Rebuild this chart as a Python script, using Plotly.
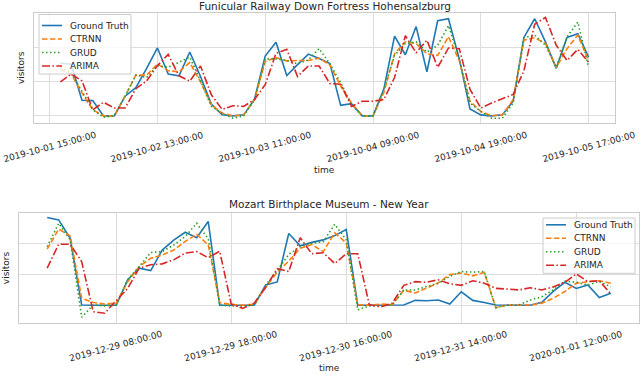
import plotly.graph_objects as go

# one point per opening hour (08:00-19:00), 50 hours per panel
IDX = list(range(50))

# --- top panel: funicular railway ---
TOP_TITLE = "Funicular Railway Down Fortress Hohensalzburg"
TOP_TICK_POS = [-1, 9, 19, 29, 39, 49]
TOP_TICK_LABELS = [
    "2019-10-01 15:00:00",
    "2019-10-02 13:00:00",
    "2019-10-03 11:00:00",
    "2019-10-04 09:00:00",
    "2019-10-04 19:00:00",
    "2019-10-05 17:00:00",
]
TOP_TRUTH = [155, 152, 46, 45, 0, 0, 58, 83, 140, 200, 123, 118, 188, 116, 35, 3, 0, 3, 48, 176,
             217, 119, 151, 182, 169, 154, 31, 36, 0, 0, 78, 235, 180, 263, 130, 280, 286, 168, 20, 3,
             0, 3, 43, 231, 286, 218, 140, 231, 242, 173]
TOP_CTRNN = [138, 123, 68, 18, 0, 0, 58, 120, 120, 153, 133, 130, 157, 100, 33, 8, 0, 3, 48, 160,
             172, 162, 163, 163, 170, 150, 88, 38, 0, 0, 68, 183, 218, 213, 183, 178, 233, 163, 43, 13,
             0, 3, 48, 223, 230, 213, 143, 198, 238, 163]
TOP_GRUD = [143, 126, 73, 18, -4, 0, 58, 120, 113, 148, 143, 158, 173, 103, 28, 8, -7, 0, 48, 168,
            168, 163, 153, 165, 198, 153, 98, 33, 0, 0, 78, 178, 213, 218, 188, 208, 266, 168, 38, 13,
            -7, -7, 38, 230, 238, 208, 143, 233, 276, 143]
TOP_ARIMA = [100, 123, 103, 18, 40, 23, 23, 80, 103, 148, 181, 118, 102, 147, 62, 19, 30, 28, 48, 92,
             184, 196, 116, 147, 147, 95, 93, 28, 43, 43, 48, 113, 236, 186, 223, 143, 200, 198, 78, 23,
             38, 50, 63, 133, 270, 290, 208, 163, 196, 158]

# --- bottom panel: mozart birthplace ---
BOT_TITLE = "Mozart Birthplace Museum - New Year"
BOT_TICK_POS = [6, 16, 26, 36, 46]
BOT_TICK_LABELS = [
    "2019-12-29 08:00:00",
    "2019-12-29 18:00:00",
    "2019-12-30 16:00:00",
    "2019-12-31 14:00:00",
    "2020-01-01 12:00:00",
]
BOT_TRUTH = [286, 278, 218, 1, 0, 0, 0, 83, 121, 113, 180, 212, 238, 220, 273, 0, 0, 0, 0, 66,
             76, 234, 194, 205, 213, 227, 247, 0, 0, 0, 0, 1, 16, 15, 17, 4, 44, 16, 9, 1,
             0, 0, 0, 10, 45, 75, 55, 66, 25, 39]
BOT_CTRNN = [183, 248, 226, 23, 9, 4, 7, 77, 126, 153, 164, 180, 208, 231, 197, 8, 3, 0, 4, 59,
             108, 144, 186, 198, 175, 236, 203, 2, 0, 4, 2, 49, 40, 57, 73, 100, 105, 96, 107, -8,
             1, 1, 1, 7, 23, 45, 72, 77, 80, 72]
BOT_GRUD = [191, 267, 213, -39, 1, -2, 1, 83, 126, 172, 175, 196, 224, 267, 217, 0, -2, -4, 1, 66,
            113, 166, 191, 202, 207, 264, 213, -15, -2, -2, 1, 50, 50, 61, 72, 94, 110, 108, 110, -8,
            1, 1, 17, 28, 50, 79, 75, 66, 78, 60]
BOT_ARIMA = [121, 199, 199, 142, -21, -26, 15, 55, 121, 132, 135, 148, 170, 175, 155, 176, 4, -10, 7, 59,
             119, 110, 220, 168, 171, 136, 168, 168, 2, -5, 7, 65, 77, 75, 83, 70, 65, 80, 72, 55,
             53, 50, 57, 50, 60, 75, 102, 77, 80, 37]

MODELS = ["Ground Truth", "CTRNN", "GRUD", "ARIMA"]

# matplotlib tab10 colours and line styles
STYLE = {
    "Ground Truth": dict(color="#1f77b4", dash="solid"),
    "CTRNN": dict(color="#ff7f0e", dash="5.5px,2.4px"),
    "GRUD": dict(color="#2ca02c", dash="1.5px,2.5px"),
    "ARIMA": dict(color="#d62728", dash="8px,2.4px,1.5px,2.4px"),
}

FONT = "DejaVu Sans"
TEXT = "#262626"
W, H = 640, 375
LW = 1.6

fig = go.Figure()

panels = [
    ("x", "y", [TOP_TRUTH, TOP_CTRNN, TOP_GRUD, TOP_ARIMA]),
    ("x2", "y2", [BOT_TRUTH, BOT_CTRNN, BOT_GRUD, BOT_ARIMA]),
]
for xa, ya, series in panels:
    for name, vals in zip(MODELS, series):
        st = STYLE[name]
        fig.add_trace(
            go.Scatter(
                x=IDX,
                y=vals,
                mode="lines",
                name=name,
                line=dict(color=st["color"], dash=st["dash"], width=LW),
                xaxis=xa,
                yaxis=ya,
                showlegend=False,
            )
        )

# pixel boxes of the two plot areas -> paper domains
top_box = (34, 615, 13, 123)
bot_box = (19, 639, 212.7, 322.7)


def dom(box):
    l, r, t, b = box
    return [l / W, r / W], [1 - b / H, 1 - t / H]


tx, ty = dom(top_box)
bx, by = dom(bot_box)

axis_common = dict(
    showgrid=True,
    gridcolor="#dddddd",
    gridwidth=1,
    zeroline=False,
    showline=True,
    linecolor="#cccccc",
    linewidth=1.2,
    mirror=True,
    ticks="",
    showticklabels=False,
)

fig.update_layout(
    xaxis=dict(domain=tx, range=[-2.45, 51.45], tickvals=TOP_TICK_POS, anchor="y", **axis_common),
    yaxis=dict(domain=ty, range=[-21, 303], tickvals=[0, 100, 200], anchor="x", **axis_common),
    xaxis2=dict(domain=bx, range=[-2.45, 51.45], tickvals=BOT_TICK_POS, anchor="y2", **axis_common),
    yaxis2=dict(domain=by, range=[-56.7, 301.6], tickvals=[0, 100, 200], anchor="x2", **axis_common),
)

ann = []
shapes = []


def text(x, y, s, size, xref="paper", angle=0, xanchor="center"):
    ann.append(
        dict(
            x=x, y=y, xref=xref, yref="paper", text=s, showarrow=False,
            xanchor=xanchor, yanchor="middle", textangle=angle,
            font=dict(family=FONT, size=size, color=TEXT),
        )
    )


def legend_box(left, top, first_row):
    # matplotlib style legend: framed box, line sample + label per model
    step = 13.5
    bottom = first_row + 3 * step + 8
    shapes.append(dict(
        type="rect", xref="paper", yref="paper",
        x0=left / W, x1=(left + 92) / W, y0=1 - bottom / H, y1=1 - top / H,
        fillcolor="rgba(255,255,255,0.8)", line=dict(color="#cccccc", width=1),
    ))
    for i, name in enumerate(MODELS):
        yc = 1 - (first_row + step * i) / H
        st = STYLE[name]
        shapes.append(dict(
            type="line", xref="paper", yref="paper",
            x0=(left + 3) / W, x1=(left + 23) / W, y0=yc, y1=yc,
            line=dict(color=st["color"], dash=st["dash"], width=LW),
        ))
        text((left + 29) / W, yc, name, 9, xanchor="left")


legend_box(39, 14.5, 25.5)
legend_box(543, 218, 224.8)

# titles, rotated tick labels, axis labels
for box, title, xref, pos, labels, title_y, time_y, vis_x in [
    (top_box, TOP_TITLE, "x", TOP_TICK_POS, TOP_TICK_LABELS, 6, 170, 21),
    (bot_box, BOT_TITLE, "x2", BOT_TICK_POS, BOT_TICK_LABELS, 204, 368, 5.5),
]:
    l, r, t, b = box
    cx = (l + r) / 2 / W
    text(cx, 1 - title_y / H, title, 10.5)
    text(cx, 1 - time_y / H, "time", 9)
    text(vis_x / W, 1 - (t + b) / 2 / H, "visitors", 9, angle=-90)
    for p, lab in zip(pos, labels):
        text(p, 1 - (b + 23.5) / H, lab, 9, xref=xref, angle=-15)

fig.update_layout(
    annotations=ann,
    shapes=shapes,
    width=W,
    height=H,
    margin=dict(l=0, r=0, t=0, b=0),
    paper_bgcolor="white",
    plot_bgcolor="white",
    font=dict(family=FONT, color=TEXT),
)

# drop the browser's default body margin so the figure sits at the page corner
fig.write_html(
    "out.html",
    config={"displayModeBar": False},
    post_script="document.body.style.margin='0';",
)
